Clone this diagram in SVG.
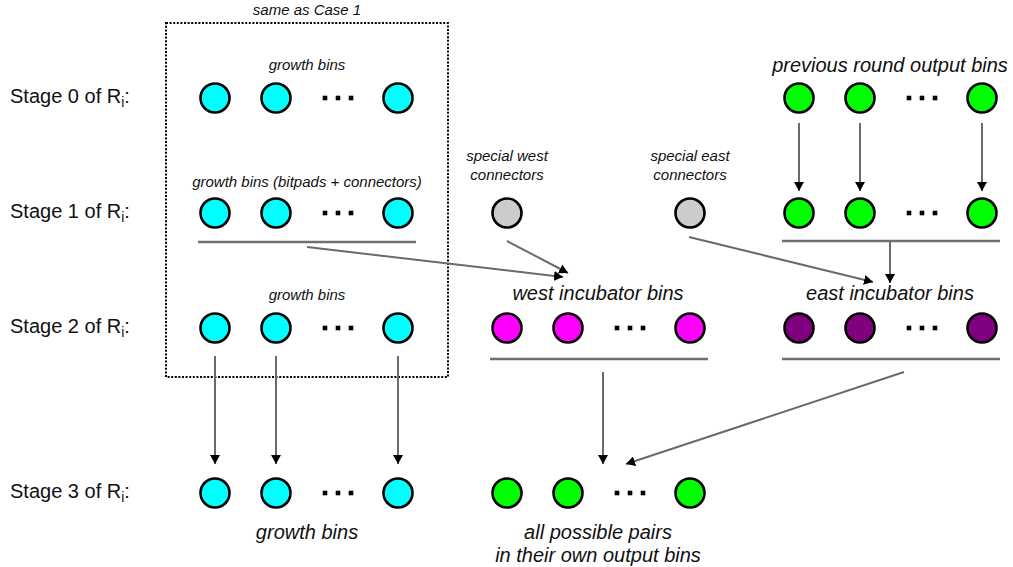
<svg xmlns="http://www.w3.org/2000/svg" width="1013" height="567" viewBox="0 0 1013 567">
  <style>
    text { font-family: "Liberation Sans", Arial, sans-serif; fill: #111; }
    .stage { font-size: 20px; }
    .big { font-size: 20px; font-style: italic; text-anchor: middle; }
    .small { font-size: 15px; font-style: italic; text-anchor: middle; }
    .bin { stroke: #000; stroke-width: 2.6; }
    .cyan { fill: #00ffff; }
    .green { fill: #00ff00; }
    .magenta { fill: #ff00ff; }
    .purple { fill: #800080; }
    .grey { fill: #cccccc; }
    .bar { stroke: #707070; stroke-width: 2.5; fill: none; }
    .conn { stroke: #6a6a6a; stroke-width: 2; fill: none; marker-end: url(#head); }
  </style>
  <defs>
    <marker id="head" viewBox="0 0 9 10" refX="9" refY="5" markerWidth="9" markerHeight="10" markerUnits="userSpaceOnUse" orient="auto">
      <path d="M0,0 L9,5 L0,10 z" fill="#000"/>
    </marker>
    <!-- ellipsis between the 2nd and last bin of a row -->
    <g id="dots">
      <rect x="-2.3" y="-2.3" width="4.6" height="4.6"/>
      <rect x="10.7" y="-2.3" width="4.6" height="4.6"/>
      <rect x="23.7" y="-2.3" width="4.6" height="4.6"/>
    </g>
  </defs>

  <!-- stage labels -->
  <g id="stage-labels">
    <text class="stage" x="10" y="103">Stage 0 of R<tspan font-size="14" dy="4">i</tspan><tspan dy="-4">:</tspan></text>
    <text class="stage" x="10" y="218">Stage 1 of R<tspan font-size="14" dy="4">i</tspan><tspan dy="-4">:</tspan></text>
    <text class="stage" x="10" y="333">Stage 2 of R<tspan font-size="14" dy="4">i</tspan><tspan dy="-4">:</tspan></text>
    <text class="stage" x="10" y="498">Stage 3 of R<tspan font-size="14" dy="4">i</tspan><tspan dy="-4">:</tspan></text>
  </g>

  <!-- dotted frame round the unchanged part -->
  <g id="case1-frame">
    <rect x="166" y="23" width="282" height="354" fill="none" stroke="#000" stroke-width="2" stroke-dasharray="2 1.6"/>
    <text class="small" x="307" y="15">same as Case 1</text>
  </g>

  <!-- stage 0 -->
  <g id="growth-s0">
    <text class="small" x="307" y="70">growth bins</text>
    <circle class="bin cyan" cx="215" cy="98" r="14.5"/>
    <circle class="bin cyan" cx="276" cy="98" r="14.5"/>
    <use href="#dots" x="325" y="98"/>
    <circle class="bin cyan" cx="398" cy="98" r="14.5"/>
  </g>
  <g id="prev-output-s0">
    <text class="big" x="890" y="72">previous round output bins</text>
    <circle class="bin green" cx="799" cy="98" r="14.5"/>
    <circle class="bin green" cx="860" cy="98" r="14.5"/>
    <use href="#dots" x="909" y="98"/>
    <circle class="bin green" cx="982" cy="98" r="14.5"/>
  </g>

  <!-- stage 1 -->
  <g id="growth-s1">
    <text class="small" x="307" y="187">growth bins (bitpads + connectors)</text>
    <circle class="bin cyan" cx="215" cy="213" r="14.5"/>
    <circle class="bin cyan" cx="276" cy="213" r="14.5"/>
    <use href="#dots" x="325" y="213"/>
    <circle class="bin cyan" cx="398" cy="213" r="14.5"/>
    <line class="bar" x1="198" y1="242" x2="416" y2="242"/>
  </g>
  <g id="west-connector">
    <text class="small" x="507" y="161">special west</text>
    <text class="small" x="507" y="180">connectors</text>
    <circle class="bin grey" cx="507" cy="213" r="14.5"/>
  </g>
  <g id="east-connector">
    <text class="small" x="690" y="161">special east</text>
    <text class="small" x="690" y="180">connectors</text>
    <circle class="bin grey" cx="690" cy="213" r="14.5"/>
  </g>
  <g id="prev-output-s1">
    <circle class="bin green" cx="799" cy="213" r="14.5"/>
    <circle class="bin green" cx="860" cy="213" r="14.5"/>
    <use href="#dots" x="909" y="213"/>
    <circle class="bin green" cx="982" cy="213" r="14.5"/>
    <line class="bar" x1="782" y1="241" x2="1000" y2="241"/>
  </g>

  <!-- stage 2 -->
  <g id="growth-s2">
    <text class="small" x="307" y="300">growth bins</text>
    <circle class="bin cyan" cx="215" cy="328" r="14.5"/>
    <circle class="bin cyan" cx="276" cy="328" r="14.5"/>
    <use href="#dots" x="325" y="328"/>
    <circle class="bin cyan" cx="398" cy="328" r="14.5"/>
  </g>
  <g id="west-incubator">
    <text class="big" x="598" y="300">west incubator bins</text>
    <circle class="bin magenta" cx="507" cy="328" r="14.5"/>
    <circle class="bin magenta" cx="568" cy="328" r="14.5"/>
    <use href="#dots" x="617" y="328"/>
    <circle class="bin magenta" cx="690" cy="328" r="14.5"/>
    <line class="bar" x1="490" y1="359" x2="708" y2="359"/>
  </g>
  <g id="east-incubator">
    <text class="big" x="890" y="300">east incubator bins</text>
    <circle class="bin purple" cx="799" cy="328" r="14.5"/>
    <circle class="bin purple" cx="860" cy="328" r="14.5"/>
    <use href="#dots" x="909" y="328"/>
    <circle class="bin purple" cx="982" cy="328" r="14.5"/>
    <line class="bar" x1="782" y1="359" x2="1000" y2="359"/>
  </g>

  <!-- stage 3 -->
  <g id="growth-s3">
    <circle class="bin cyan" cx="215" cy="493" r="14.5"/>
    <circle class="bin cyan" cx="276" cy="493" r="14.5"/>
    <use href="#dots" x="325" y="493"/>
    <circle class="bin cyan" cx="398" cy="493" r="14.5"/>
    <text class="big" x="307" y="539">growth bins</text>
  </g>
  <g id="pair-output-s3">
    <circle class="bin green" cx="507" cy="493" r="14.5"/>
    <circle class="bin green" cx="568" cy="493" r="14.5"/>
    <use href="#dots" x="617" y="493"/>
    <circle class="bin green" cx="690" cy="493" r="14.5"/>
    <text class="big" x="598" y="539">all possible pairs</text>
    <text class="big" x="598" y="562">in their own output bins</text>
  </g>

  <!-- connectors -->
  <g id="connectors">
    <line class="conn" x1="799" y1="123" x2="799" y2="191"/>
    <line class="conn" x1="860" y1="123" x2="860" y2="191"/>
    <line class="conn" x1="982" y1="123" x2="982" y2="191"/>

    <line class="conn" x1="307" y1="247" x2="563" y2="277"/>
    <line class="conn" x1="507" y1="241" x2="568" y2="273"/>
    <line class="conn" x1="689" y1="237" x2="873" y2="282"/>
    <line class="conn" x1="890" y1="242" x2="890" y2="283"/>

    <line class="conn" x1="215" y1="356" x2="215" y2="464"/>
    <line class="conn" x1="276" y1="356" x2="276" y2="464"/>
    <line class="conn" x1="398" y1="356" x2="398" y2="464"/>

    <line class="conn" x1="603" y1="372" x2="603" y2="464"/>
    <line class="conn" x1="904" y1="372" x2="626" y2="464"/>
  </g>
</svg>
